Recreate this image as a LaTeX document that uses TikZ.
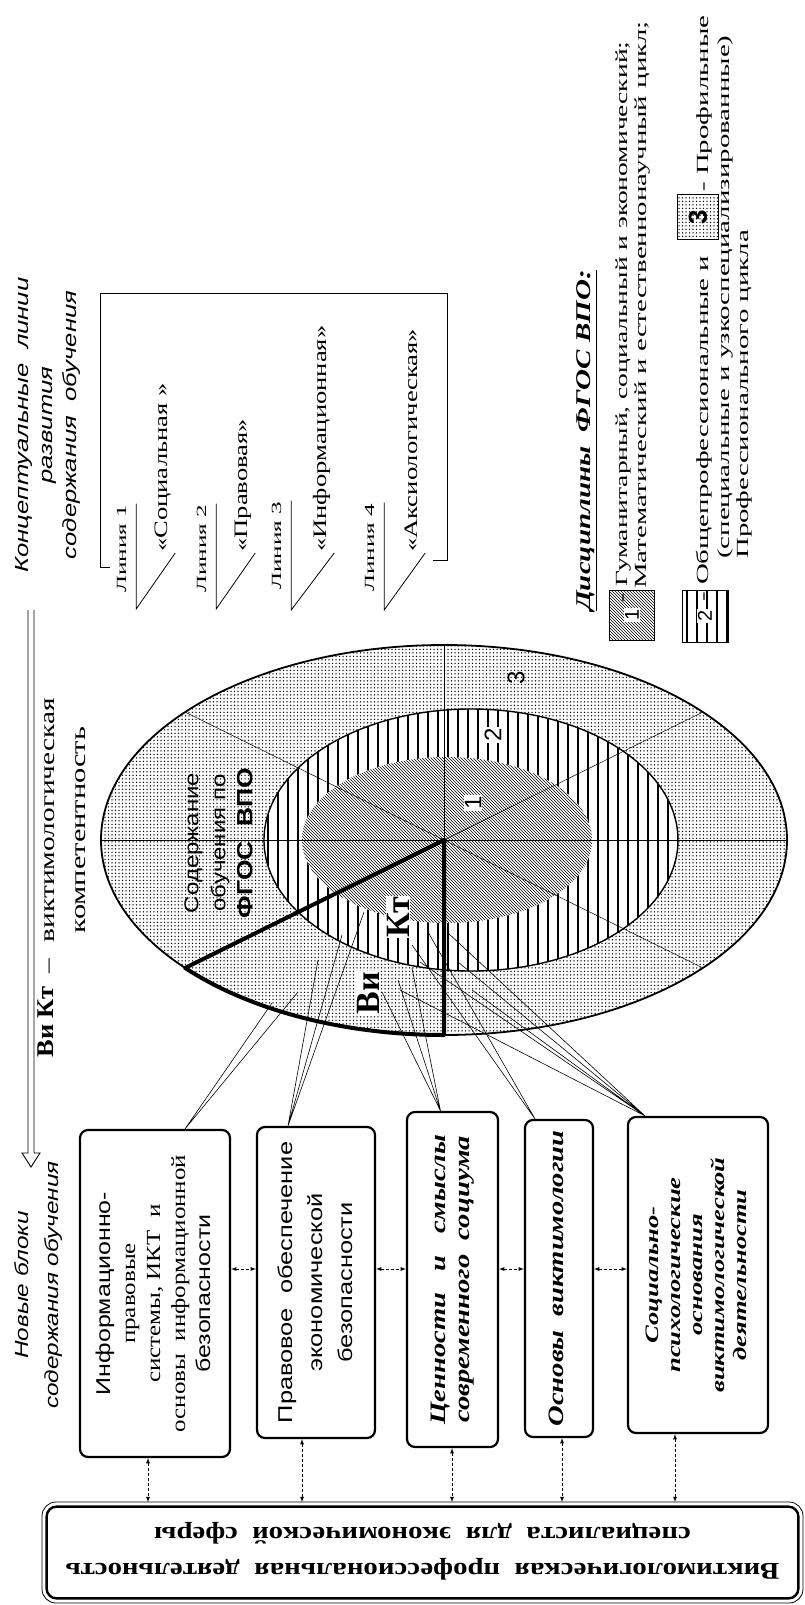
\documentclass[tikz,border=0pt]{standalone}
\usepackage{fontspec}
\setmainfont{Liberation Serif}
\setsansfont{Liberation Sans}
\usepackage{graphicx}
\usetikzlibrary{arrows,patterns,patterns.meta}
\setlength{\fboxsep}{1pt}
\newcommand{\fsz}[2]{\fontsize{#1}{#2}\selectfont}
\newcommand{\vt}[2]{\rotatebox{90}{\scalebox{#1}[1]{\begin{tabular}{@{}c@{}}#2\end{tabular}}}}

\begin{document}
\begin{tikzpicture}[x=1pt,y=-1pt,
  blk/.style={draw,line width=2.2pt,rounded corners=8pt,fill=white,inner sep=0pt},
  txt/.style={inner sep=1pt},
  darr/.style={densely dashed,line width=0.8pt,latex-latex},
  fan/.style={line width=0.6pt}]
  \useasboundingbox (0,0) rectangle (805,1605);

  \node[txt,font=\sffamily\itshape\fsz{19}{24}] (hdrLines) at (48,425) {\vt{1.35}{Концептуальные\ \ линии\\развития\\содержания\ \ обучения}};
  \node[txt,font=\bfseries\fsz{24}{28}] (hdrVK) at (48,1022) {\vt{1.1}{Ви Кт}};
  \node[txt,font=\fsz{21}{24},anchor=south] (hdrVict) at (50,975) {\vt{1.4}{–\hspace{12pt}виктимологическая}};
  \node[txt,font=\fsz{21}{24}] (hdrComp) at (81,830) {\vt{1.45}{компетентность}};
  \node[txt,font=\sffamily\itshape\fsz{19}{30}] (hdrNew) at (37,1285) {\vt{1.28}{Новые блоки\\содержания обучения}};

  \coordinate (arrTop) at (31,610);
  \coordinate (arrTip) at (31,1167);
  \draw[line width=0.9pt] ([xshift=-3pt]arrTop) -- ([xshift=-3pt,yshift=14pt]arrTip) -- ([xshift=-9pt,yshift=14pt]arrTip) -- (arrTip)
    -- ([xshift=9pt,yshift=14pt]arrTip) -- ([xshift=3pt,yshift=14pt]arrTip) -- ([xshift=3pt]arrTop);

  \node[txt,font=\fsz{14}{16},anchor=south] (lin1) at (123,594) {\vt{1.8}{Линия 1}};
  \node[txt,font=\fsz{19}{22},anchor=south] (soc) at (163,553) {\vt{1.4}{«Социальная »}};
  \node[txt,font=\fsz{14}{16},anchor=south] (lin2) at (203,594) {\vt{1.8}{Линия 2}};
  \node[txt,font=\fsz{19}{22},anchor=south] (pra) at (243,553) {\vt{1.4}{«Правовая»}};
  \node[txt,font=\fsz{14}{16},anchor=south] (lin3) at (278,591) {\vt{1.8}{Линия 3}};
  \node[txt,font=\fsz{19}{22},anchor=south] (inf) at (322,553) {\vt{1.4}{«Информационная»}};
  \node[txt,font=\fsz{14}{16},anchor=south] (lin4) at (371,593) {\vt{1.8}{Линия 4}};
  \node[txt,font=\fsz{19}{22},anchor=south] (aks) at (413,553) {\vt{1.4}{«Аксиологическая»}};
  \draw[line width=0.8pt] ([xshift=4pt]lin1.north east) -- ([xshift=4pt,yshift=-15pt]lin1.south east) -- (soc.south east);
  \draw[line width=0.8pt] ([xshift=4pt]lin2.north east) -- ([xshift=4pt,yshift=-15pt]lin2.south east) -- (pra.south east);
  \draw[line width=0.8pt] ([xshift=4pt]lin3.north east) -- ([xshift=4pt,yshift=-19pt]lin3.south east) -- (inf.south east);
  \draw[line width=0.8pt] ([xshift=4pt]lin4.north east) -- ([xshift=4pt,yshift=-17pt]lin4.south east) -- (aks.south east);
  \draw[line width=0.9pt] (110,567) -- (100,567) -- (100,293) -- (447,293) -- (447,560) -- (433,560);

  \node[txt,font=\bfseries\itshape\fsz{21}{24},anchor=south] (legTitle) at (586,612) {\vt{1.38}{\underline{Дисциплины\ \ ФГОС ВПО:}}};
  \node[draw,line width=0.8pt,minimum width=45pt,minimum height=50pt,inner sep=0pt,
    pattern=north west lines,font=\sffamily\fsz{20}{22}] (sw1) at (632,615) {\colorbox{white}{\rotatebox{90}{1}}};
  \node[txt,font=\fsz{17}{19},anchor=south] (leg1) at (624,604) {\vt{1.62}{- Гуманитарный, социальный и экономический;}};
  \node[txt,font=\fsz{17}{19},anchor=south] (leg2) at (643,590) {\vt{1.7}{Математический и естественнонаучный цикл;}};
  \foreach \xx in {687,697,...,727}
    \draw[line width=2pt] (\xx,590) -- (\xx,642);
  \node[draw,line width=0.8pt,minimum width=46pt,minimum height=52pt,inner sep=0pt,font=\sffamily\fsz{20}{22}] (sw2) at (705,616) {\colorbox{white}{\rotatebox{90}{2}}};
  \node[txt,font=\fsz{17}{19},anchor=south] (leg3) at (705,603) {\vt{1.7}{- Общепрофессиональные и}};
  \node[draw,line width=0.8pt,minimum width=41pt,minimum height=45pt,inner sep=0pt,
    pattern={Dots[distance=3.5pt,radius=0.75pt]},font=\sffamily\bfseries\fsz{26}{28}] (sw3) at (698,217) {\rotatebox{90}{3}};
  \node[txt,font=\fsz{17}{19},anchor=south] (leg3b) at (705,193) {\vt{1.7}{- Профильные}};
  \node[txt,font=\fsz{17}{19},anchor=south] (leg4) at (726,560) {\vt{1.7}{(специальные и узкоспециализированные)}};
  \node[txt,font=\fsz{17}{19},anchor=south] (leg5) at (745,560) {\vt{1.7}{Профессионального цикла}};

  \coordinate (ctr) at (444,840);
  \coordinate (midC) at (471,840);
  \coordinate (innC) at (447,840);
  \fill[white] (ctr) ellipse [x radius=343, y radius=195];
  \path[pattern={Dots[distance=3.5pt,radius=0.75pt]}] (ctr) ellipse [x radius=343, y radius=195];
  \fill[white] (midC) ellipse [x radius=207, y radius=131];
  \begin{scope}
    \clip (midC) ellipse [x radius=207, y radius=131];
    \foreach \xx in {268,278,...,678}
      \draw[line width=2.6pt] (\xx,700) -- (\xx,980);
  \end{scope}
  \fill[white] (innC) ellipse [x radius=145, y radius=83];
  \path[pattern=north west lines] (innC) ellipse [x radius=145, y radius=83];
  \draw[line width=1.8pt] (ctr) ellipse [x radius=343, y radius=195];
  \draw[line width=1.4pt] (midC) ellipse [x radius=207, y radius=131];
  \foreach \ang in {0,41,90,139,180,221,270,319}
    \draw[line width=0.5pt] (ctr) -- ++(\ang:343 and 195);

  \node[blk,minimum width=150pt,minimum height=327pt,font=\fsz{20}{25}] (blk1) at (155,1293.5)
    {\vt{1.25}{{\sffamily Информационно-}\\правовые\\системы, ИКТ\ \ и\\основы\ \ информационной\\{\sffamily безопасности}}};
  \node[blk,minimum width=118pt,minimum height=311pt,font=\sffamily\fsz{20}{30}] (blk2) at (316,1282.5)
    {\vt{1.27}{Правовое\ \ обеспечение\\экономической\\безопасности}};
  \node[blk,minimum width=91pt,minimum height=335pt,font=\bfseries\itshape\fsz{22}{24}] (blk3) at (452.5,1279.5)
    {\vt{1.3}{Ценности\ \ \ и\ \ \ смыслы\\современного\ \ социума}};
  \node[blk,minimum width=68pt,minimum height=317pt,font=\bfseries\itshape\fsz{22}{24}] (blk4) at (559,1278.5)
    {\vt{1.3}{Основы\ \ виктимологии}};
  \node[blk,minimum width=140pt,minimum height=316pt,font=\bfseries\itshape\fsz{19}{22}] (blk5) at (698,1275)
    {\vt{1.4}{Социально-\\психологические\\основания\\виктимологической\\деятельности}};

  \node[draw,line width=0.8pt,rounded corners=14pt,minimum width=761pt,minimum height=101pt,inner sep=0pt,font=\bfseries\fsz{24}{36}] (vkpd) at (422.5,1552.5)
    {\rotatebox{180}{\scalebox{1.2}[1]{\begin{tabular}{@{}c@{}}Виктимологическая\ \ профессиональная\ \ деятельность\\специалиста\ \ для\ \ экономической\ \ сферы\end{tabular}}}};
  \draw[line width=2.4pt,rounded corners=10pt] ([xshift=5pt,yshift=-5pt]vkpd.north west) rectangle ([xshift=-5pt,yshift=5pt]vkpd.south east);

  \coordinate (hy) at (0,1269);
  \draw[darr] (blk1.east |- hy) -- (blk2.west |- hy);
  \draw[darr] (blk2.east |- hy) -- (blk3.west |- hy);
  \draw[darr] (blk3.east |- hy) -- (blk4.west |- hy);
  \draw[darr] (blk4.east |- hy) -- (blk5.west |- hy);
  \coordinate (v1) at (148,1502);
  \coordinate (v2) at (302,1502);
  \coordinate (v3) at (452,1502);
  \coordinate (v4) at (562,1502);
  \coordinate (v5) at (675,1502);
  \draw[darr] (blk1.south -| v1) -- (v1);
  \draw[darr] (blk2.south -| v2) -- (v2);
  \draw[darr] (blk3.south -| v3) -- (v3);
  \draw[darr] (blk4.south -| v4) -- (v4);
  \draw[darr] (blk5.south -| v5) -- (v5);

  \draw[fan] ([xshift=30pt]blk1.north) -- (272,1003) ([xshift=30pt]blk1.north) -- (298,992);
  \draw[fan] ([xshift=-28pt]blk2.north) -- (318,960) ([xshift=-28pt]blk2.north) -- (342,935) ([xshift=-28pt]blk2.north) -- (364,912);
  \draw[fan] ([xshift=-12pt]blk3.north) -- (382,992) ([xshift=-12pt]blk3.north) -- (398,980) ([xshift=-12pt]blk3.north) -- (412,968);
  \draw[fan] ([xshift=-24pt]blk4.north) -- (412,945) ([xshift=-24pt]blk4.north) -- (428,932);
  \draw[fan] ([xshift=-53pt]blk5.north) -- (400,990) ([xshift=-53pt]blk5.north) -- (420,962) ([xshift=-53pt]blk5.north) -- (447,932)
    ([xshift=-53pt]blk5.north) -- (458,962) ([xshift=-53pt]blk5.north) -- (472,990);

  \draw[line width=4pt,line join=round] (ctr) -- ++(90:343 and 195) arc [start angle=90, end angle=139, x radius=343, y radius=195] -- cycle;

  \node[txt,font=\sffamily\fsz{20}{27}] (cont) at (220,843) {\vt{1.2}{Содержание\\обучения по\\{\fsz{22}{27}\bfseries ФГОС\ \ ВПО}}};
  \node[fill=white,inner sep=1pt,font=\bfseries\fsz{34}{36}] (vkV) at (368,993) {\rotatebox{90}{Ви}};
  \node[fill=white,inner sep=1pt,font=\bfseries\fsz{34}{36}] (vkK) at (398,917) {\rotatebox{90}{Кт}};
  \node[fill=white,inner sep=1pt,font=\sffamily\fsz{24}{26}] (num1) at (473,803) {\rotatebox{90}{1}};
  \node[fill=white,inner sep=1pt,font=\sffamily\fsz{24}{26}] (num2) at (493,735) {\rotatebox{90}{2}};
  \node[inner sep=1pt,font=\sffamily\fsz{24}{26}] (num3) at (516,678) {\rotatebox{90}{3}};
\end{tikzpicture}
\end{document}
